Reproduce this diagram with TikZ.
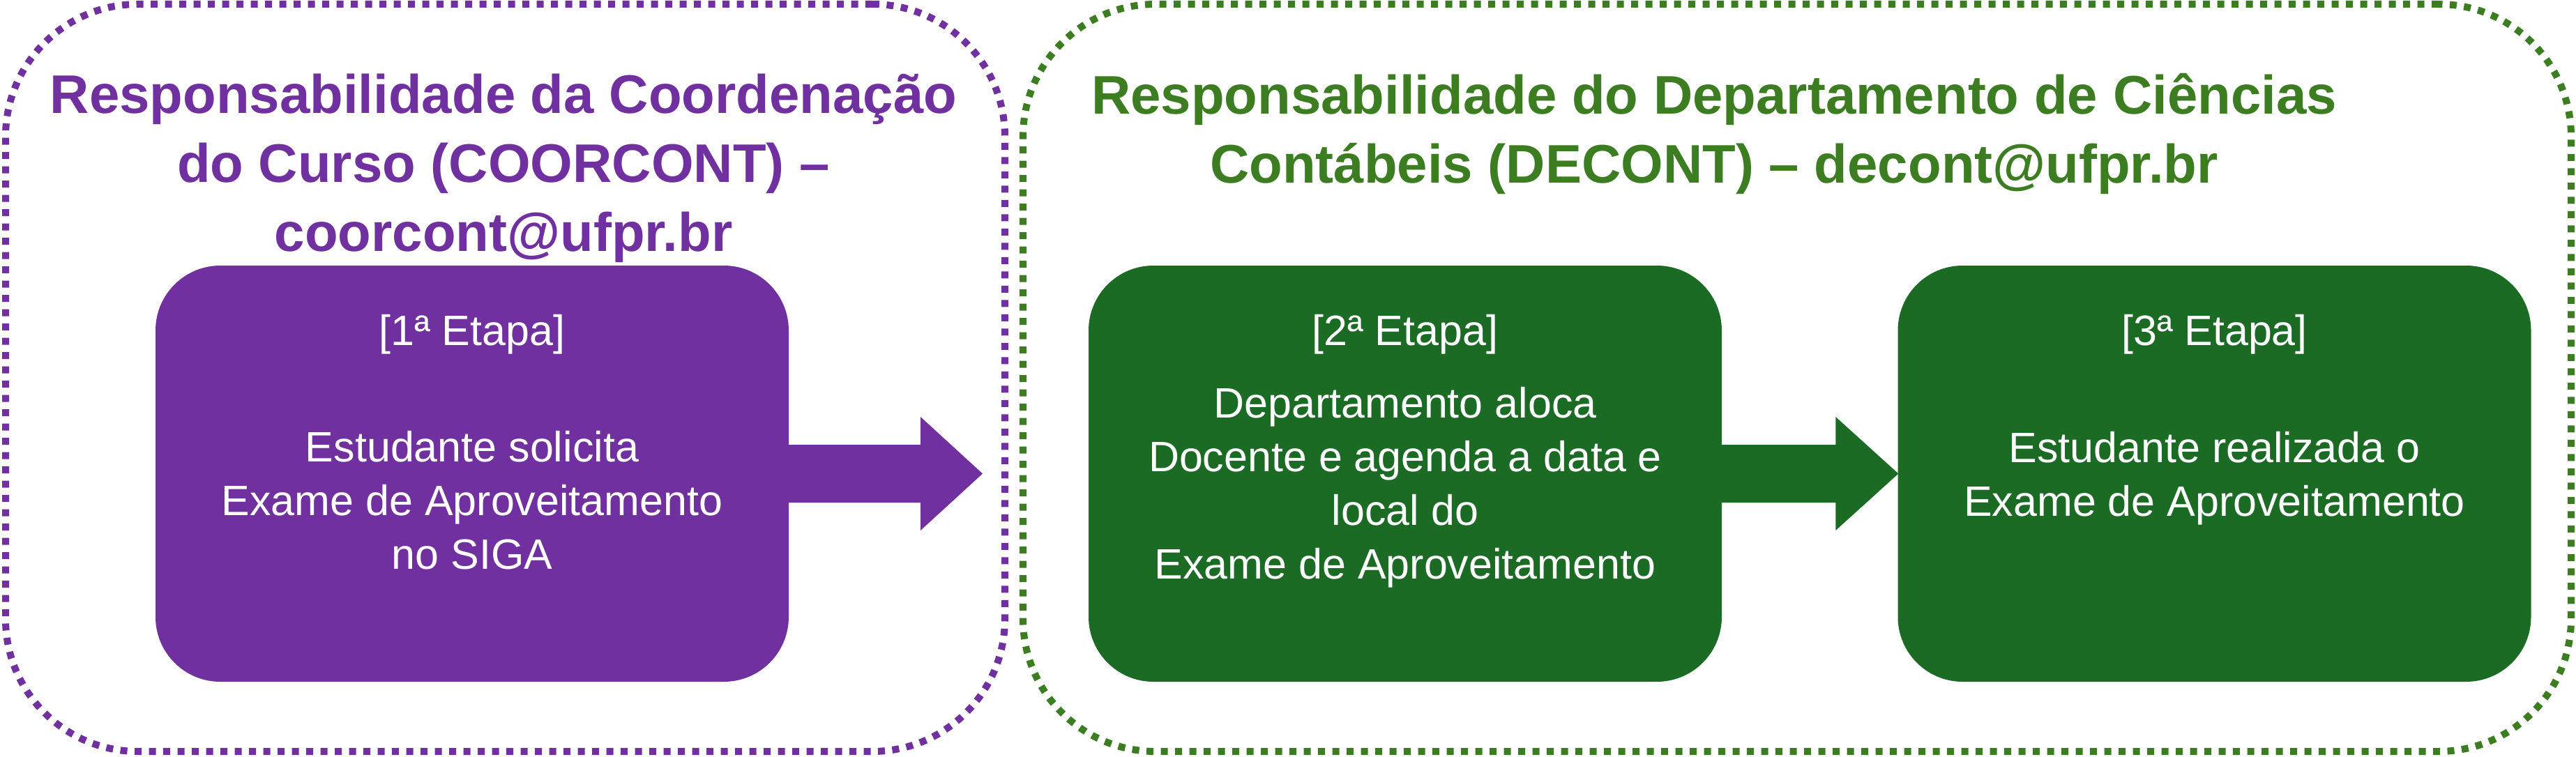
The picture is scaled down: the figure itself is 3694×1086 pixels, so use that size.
\documentclass[tikz,border=0pt]{standalone}
\usepackage{fontspec}
\setmainfont{Liberation Sans}
\usetikzlibrary{calc}
\definecolor{pur}{HTML}{7030A0}
\definecolor{gbox}{HTML}{1B6B25}
\definecolor{gline}{HTML}{3C7D22}
\tikzset{
  grp/.style={draw, line width=10pt, dash pattern=on 10pt off 10.5pt, rounded corners=190pt, minimum width=#1, inner sep=0pt, minimum height=1072pt},
  stepbox/.style={rounded corners=93pt, minimum width=908pt, minimum height=597pt, inner sep=0pt},
  title/.style={font=\fontsize{78}{99}\selectfont\bfseries, align=center, inner sep=0pt, anchor=base},
  body/.style={font=\fontsize{61}{77}\selectfont, text=white, align=center, inner sep=0pt, anchor=base},
}
\begin{document}
\begin{tikzpicture}[x=1pt,y=-1pt]
\useasboundingbox (0,0) rectangle (3694,1086);
% group outlines
\node[grp=1433pt, draw=pur] (g1) at (724.5,542) {};
\node[grp=2220pt, draw=gline] (g2) at (2577,542) {};
% titles (anchored at the baseline of their last line)
\node[title, text=pur] (t1) at (722,360) {Responsabilidade da Coordenação\\do Curso (COORCONT) –\\coorcont@ufpr.br};
\node[title, text=gline] (t2) at (2458,262) {Responsabilidade do Departamento de Ciências\\Contábeis (DECONT) – decont@ufpr.br};
% step boxes
\node[stepbox, fill=pur] (s1) at (677,679.5) {};
\node[stepbox, fill=gbox] (s2) at (2015,679.5) {};
\node[stepbox, fill=gbox] (s3) at (3175.5,679.5) {};
% arrows
\coordinate (a1) at (1409,679.5);
\fill[pur] ($(s1.east)+(-5,-41.5)$) -- ($(a1)+(-89,-41.5)$) -- ($(a1)+(-89,-81.5)$) -- (a1)
  -- ($(a1)+(-89,81.5)$) -- ($(a1)+(-89,41.5)$) -- ($(s1.east)+(-5,41.5)$) -- cycle;
\fill[gbox] ($(s2.east)+(-5,-41.5)$) -- ($(s3.west)+(-89,-41.5)$) -- ($(s3.west)+(-89,-81.5)$) -- ($(s3.west)+(1,0)$)
  -- ($(s3.west)+(-89,81.5)$) -- ($(s3.west)+(-89,41.5)$) -- ($(s2.east)+(-5,41.5)$) -- cycle;
% step texts (anchored at the baseline of their last line)
\node[body] (s1h) at (677,495) {[1ª Etapa]};
\node[body] (s1b) at (677,816) {Estudante solicita\\Exame de Aproveitamento\\no SIGA};
\node[body] (s2h) at (2015,495) {[2ª Etapa]};
\node[body] (s2b) at (2015,830) {Departamento aloca\\Docente e agenda a data e\\local do\\Exame de Aproveitamento};
\node[body] (s3h) at (3175.5,495) {[3ª Etapa]};
\node[body] (s3b) at (3175.5,740) {Estudante realizada o\\Exame de Aproveitamento};
\end{tikzpicture}
\end{document}
